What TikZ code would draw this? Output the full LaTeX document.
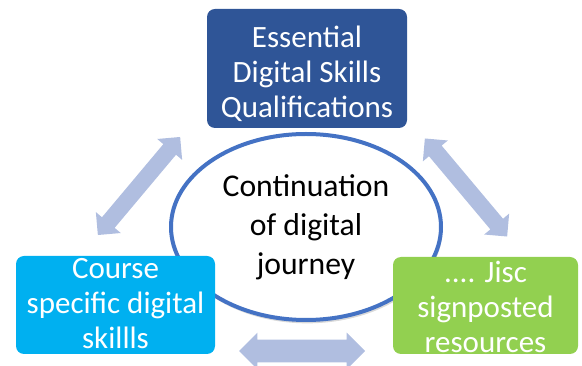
\documentclass[tikz,border=0pt]{standalone}
\usepackage{fontspec}
\setmainfont{Carlito}
\usetikzlibrary{shapes.geometric,shapes.arrows,shadows}

\definecolor{edsblue}{RGB}{47,85,151}
\definecolor{courseblue}{RGB}{0,176,240}
\definecolor{jiscgreen}{RGB}{146,208,80}
\definecolor{ringblue}{RGB}{68,114,196}
\definecolor{linkarrow}{RGB}{176,190,224}

\tikzset{
  skillbox/.style={rounded corners=6pt, inner sep=0pt},
  skilltext/.style={text=white, align=center, inner sep=0pt,
    font=\fontsize{23.25}{26.25}\selectfont},
  linkarr/.style={double arrow, fill=linkarrow, draw=none, inner xsep=0pt, inner ysep=6pt,
    double arrow head extend=6pt, minimum height=96pt}
}

\begin{document}
\begin{tikzpicture}[x=0.75pt,y=0.75pt,yscale=-1]
\useasboundingbox (0,0) rectangle (582,366);

%Arrows
\draw (139,186) node [linkarr, rotate=50] (arrleft) {};
\draw (466,187.5) node [linkarr, rotate=-50] (arrright) {};
\draw (302,351) node [linkarr, inner ysep=8.25pt, double arrow head extend=5.25pt, minimum height=94.5pt] (arrbottom) {};

%Ellipse
\draw (306,227) node [ellipse, draw=ringblue, line width=3pt, fill=white, inner sep=0pt,
  minimum width=202.5pt, minimum height=139.5pt, align=center,
  drop shadow={shadow xshift=1pt, shadow yshift=-2.5pt, opacity=0.3},
  font=\fontsize{23.75}{29.25}\selectfont] (journey) {Continuation\\of digital\\journey};

%Boxes
\draw (307,68.5) node [skillbox, fill=edsblue, minimum width=150pt, minimum height=89.25pt] (edsq) {};
\draw (115.5,305) node [skillbox, fill=courseblue, minimum width=149.25pt, minimum height=73.5pt] (course) {};
\draw (485.5,305.5) node [skillbox, fill=jiscgreen, minimum width=138.75pt, minimum height=72.75pt] (jisc) {};

% Text Node
\draw (307,73.5) node [skilltext] (edsq-text) {Essential\\Digital Skills\\Qualifications};
% Text Node
\draw (115.5,304) node [skilltext] (course-text) {Course\\specific digital\\skillls};
% Text Node
\draw (485.5,306.5) node [skilltext] (jisc-text) {.... Jisc\\signposted\\resources};

\end{tikzpicture}
\end{document}
